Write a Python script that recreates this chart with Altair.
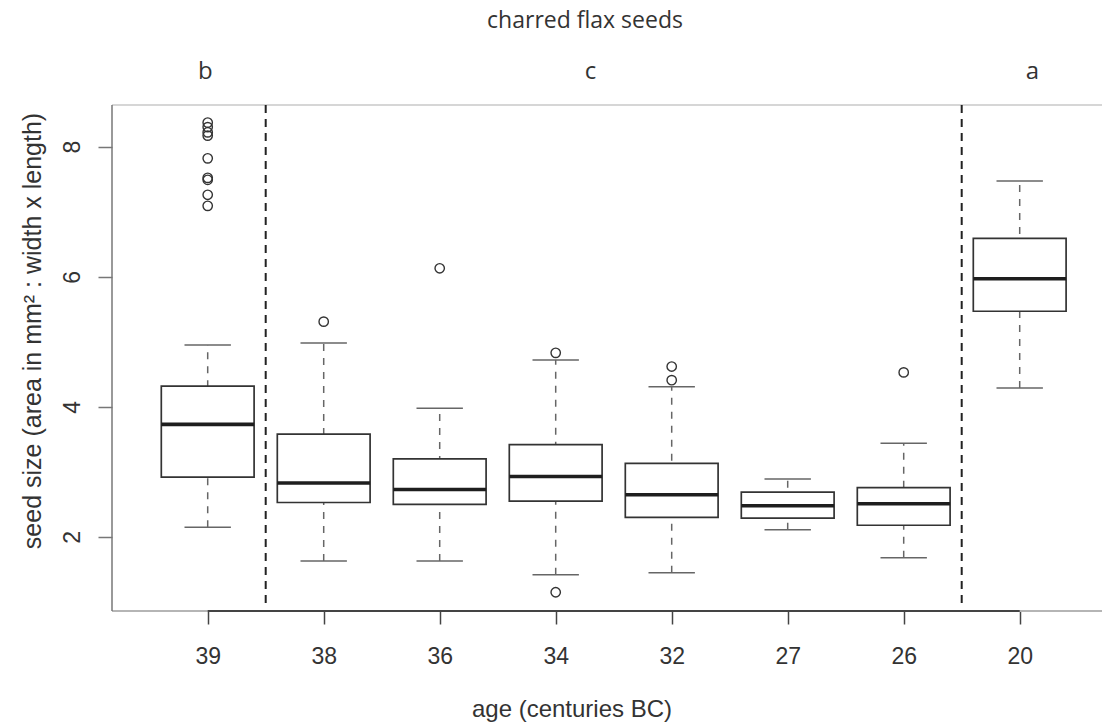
import altair as alt
import pandas as pd

# ---- data ----
ages = ["39", "38", "36", "34", "32", "27", "26", "20"]
positions = [1, 2, 3, 4, 5, 6, 7, 8]
whisker_low = [2.15, 1.63, 1.63, 1.42, 1.45, 2.11, 1.68, 4.29]
q1 = [2.92, 2.53, 2.50, 2.55, 2.30, 2.29, 2.18, 5.47]
medians = [3.73, 2.83, 2.73, 2.93, 2.65, 2.48, 2.51, 5.97]
q3 = [4.32, 3.58, 3.20, 3.42, 3.13, 2.69, 2.76, 6.59]
whisker_high = [4.95, 4.98, 3.98, 4.72, 4.31, 2.89, 3.44, 7.47]

outlier_age = ["39"] * 9 + ["38", "36", "34", "34", "32", "32", "26"]
outlier_val = [8.37, 8.30, 8.22, 8.17, 7.82, 7.52, 7.49, 7.26, 7.09,
               5.31, 6.13, 4.83, 1.15, 4.62, 4.41, 4.53]

group_letters = ["b", "c", "a"]
letter_pos = [0.98, 4.3, 8.11]
separators = [1.5, 7.5]

y_ticks = [2, 4, 6, 8]

# ---- tables ----
pos_of = dict(zip(ages, positions))
box_df = pd.DataFrame({
    "age": ages, "pos": positions, "lo": whisker_low, "q1": q1,
    "med": medians, "q3": q3, "hi": whisker_high,
})
box_df["left"] = box_df["pos"] - 0.4
box_df["right"] = box_df["pos"] + 0.4
box_df["capl"] = box_df["pos"] - 0.2
box_df["capr"] = box_df["pos"] + 0.2

out_df = pd.DataFrame({"age": outlier_age, "val": outlier_val})
out_df["pos"] = out_df["age"].map(pos_of)

let_df = pd.DataFrame({"letter": group_letters, "pos": letter_pos})
sep_df = pd.DataFrame({"pos": separators})
axis_df = pd.DataFrame({"a": [positions[0]], "b": [positions[-1]]})
one = pd.DataFrame({"k": [0]})

W, H = 990, 506
AX_FONT = "Liberation Sans"
TT_FONT = "Open Sans"

xs = alt.Scale(domain=[0.175, 0.175 + W / 116.0], nice=False, zero=False)
ys = alt.Scale(domain=[0.862, 8.64], nice=False, zero=False)

label_expr = "[''," + ",".join("'%s'" % a for a in ages) + "][datum.value]"
x_axis = alt.Axis(values=positions, labelExpr=label_expr, domain=False, grid=False,
                  tickSize=13, tickColor="#444", tickWidth=1.5,
                  labelFont=AX_FONT, labelFontSize=23, labelColor="#333",
                  labelPadding=21, title=None)
y_axis = alt.Axis(values=y_ticks, domain=False, grid=False, tickSize=14,
                  tickColor="#777", tickWidth=1.5, labelAngle=270,
                  labelAlign="center", labelBaseline="middle",
                  labelFont=AX_FONT, labelFontSize=23, labelColor="#333",
                  labelPadding=26, title=None)


def X(f):
    return alt.X(f + ":Q", scale=xs, axis=x_axis)


def Y(f):
    return alt.Y(f + ":Q", scale=ys, axis=y_axis)


# frame
top_line = alt.Chart(one).mark_rule(color="#c8c8c8", strokeWidth=1.5).encode(
    x=alt.value(0), x2=alt.value(W + 10), y=alt.value(0))
bottom_line = alt.Chart(one).mark_rule(color="#b5b5b5", strokeWidth=2).encode(
    x=alt.value(0), x2=alt.value(W + 10), y=alt.value(H))
left_line = alt.Chart(one).mark_rule(color="#777", strokeWidth=1.5).encode(
    x=alt.value(0), y=alt.value(0), y2=alt.value(H))
x_axis_line = alt.Chart(axis_df).mark_rule(color="#444", strokeWidth=2).encode(
    x=X("a"), x2="b:Q", y=alt.value(H))

seps = alt.Chart(sep_df).mark_rule(color="#222", strokeWidth=2, strokeDash=[8, 6]).encode(
    x=X("pos"), y=alt.value(0), y2=alt.value(498))

whisk = alt.Chart(box_df).mark_rule(color="#666", strokeWidth=1.5, strokeDash=[7, 7]).encode(
    x=X("pos"), y=Y("lo"), y2="hi:Q")
cap_lo = alt.Chart(box_df).mark_rule(color="#666", strokeWidth=1.5).encode(
    x=X("capl"), x2="capr:Q", y=Y("lo"))
cap_hi = alt.Chart(box_df).mark_rule(color="#666", strokeWidth=1.5).encode(
    x=X("capl"), x2="capr:Q", y=Y("hi"))
boxes = alt.Chart(box_df).mark_rect(fill="white", stroke="#333", strokeWidth=1.7).encode(
    x=X("left"), x2="right:Q", y=Y("q1"), y2="q3:Q")
meds = alt.Chart(box_df).mark_rule(color="#1e1e1e", strokeWidth=3.6).encode(
    x=X("left"), x2="right:Q", y=Y("med"))
outs = alt.Chart(out_df).mark_point(shape="circle", filled=False, size=88,
                                    color="#333", strokeWidth=1.4, opacity=1).encode(
    x=X("pos"), y=Y("val"))

letters = alt.Chart(let_df).mark_text(font=TT_FONT, fontSize=24, color="#333",
                                      baseline="alphabetic", align="center").encode(
    x=X("pos"), y=alt.value(-26), text="letter:N")

title = alt.Chart(one).mark_text(text="charred flax seeds", font=TT_FONT, fontSize=23,
                                 color="#333", baseline="alphabetic", align="center").encode(
    x=alt.value(473), y=alt.value(-77))
x_title = alt.Chart(one).mark_text(text="age (centuries BC)", font=AX_FONT, fontSize=24,
                                   color="#333", baseline="alphabetic", align="center").encode(
    x=alt.value(460), y=alt.value(611.5))
y_title = alt.Chart(one).mark_text(text="seed size (area in mm\u00b2 : width x length)",
                                   font=AX_FONT, fontSize=25, color="#333", angle=270,
                                   baseline="middle", align="center").encode(
    x=alt.value(-79), y=alt.value(226))

chart = alt.layer(
    top_line, bottom_line, left_line, x_axis_line, seps,
    whisk, cap_lo, cap_hi, boxes, meds, outs,
    letters, title, x_title, y_title,
).properties(
    width=W, height=H,
    autosize=alt.AutoSizeParams(type="none"),
    padding={"left": 104, "top": 97, "right": 0, "bottom": 111},
).configure_view(strokeWidth=0)

chart.save("out.html", embed_options={"renderer": "svg", "actions": False})
